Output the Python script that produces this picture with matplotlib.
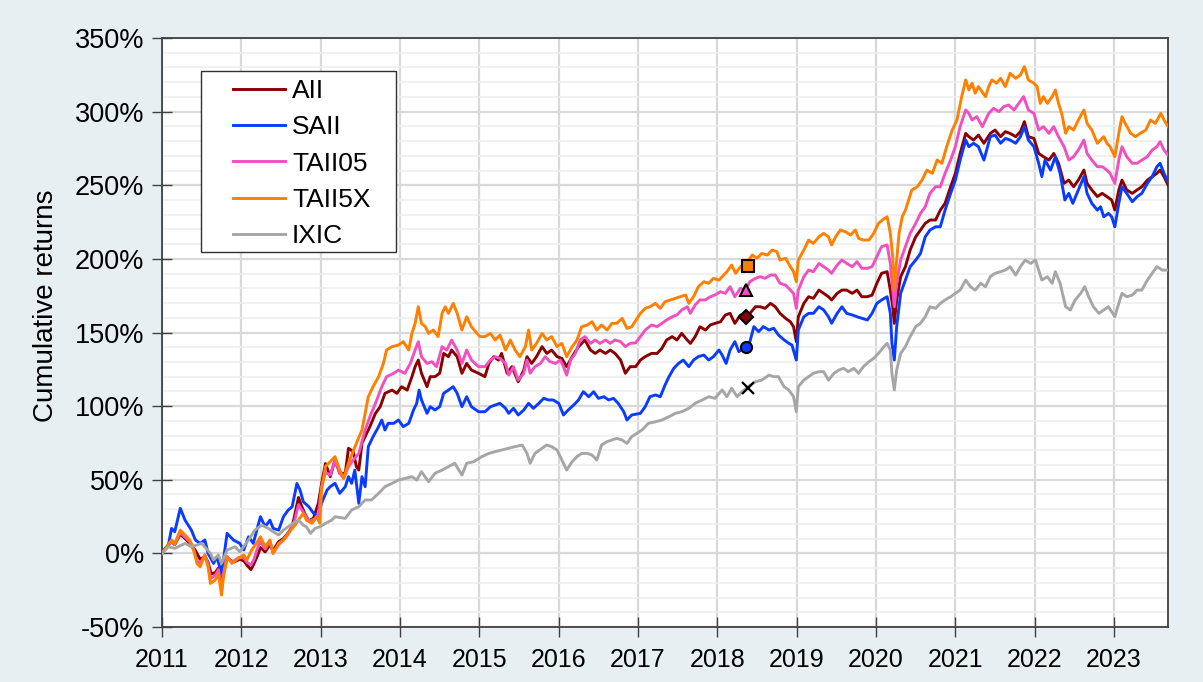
import matplotlib
matplotlib.use("Agg")
import matplotlib.pyplot as plt
from matplotlib.patches import Rectangle

plt.rcParams['font.family'] = ['Liberation Sans', 'DejaVu Sans']

# cumulative returns (%), time in decimal years
aii_t = [2011.00, 2011.08, 2011.12, 2011.16, 2011.23, 2011.29, 2011.37, 2011.42, 2011.48, 2011.54,
         2011.58, 2011.62, 2011.67, 2011.71, 2011.75, 2011.77, 2011.82, 2011.90, 2011.98, 2012.03,
         2012.07, 2012.12, 2012.15, 2012.20, 2012.24, 2012.30, 2012.36, 2012.40, 2012.47, 2012.53,
         2012.59, 2012.64, 2012.72, 2012.76, 2012.80, 2012.85, 2012.91, 2012.97, 2013.01, 2013.06,
         2013.12, 2013.18, 2013.24, 2013.31, 2013.35, 2013.41, 2013.45, 2013.48, 2013.52, 2013.56,
         2013.62, 2013.69, 2013.75, 2013.81, 2013.90, 2013.96, 2014.02, 2014.09, 2014.15, 2014.19,
         2014.23, 2014.27, 2014.34, 2014.38, 2014.44, 2014.50, 2014.55, 2014.61, 2014.65, 2014.72,
         2014.78, 2014.84, 2014.90, 2014.99, 2015.07, 2015.12, 2015.18, 2015.24, 2015.28, 2015.35,
         2015.41, 2015.49, 2015.56, 2015.60, 2015.66, 2015.72, 2015.79, 2015.85, 2015.91, 2015.98,
         2016.04, 2016.10, 2016.17, 2016.25, 2016.33, 2016.40, 2016.46, 2016.52, 2016.59, 2016.65,
         2016.71, 2016.78, 2016.84, 2016.90, 2016.97, 2017.03, 2017.09, 2017.17, 2017.24, 2017.30,
         2017.36, 2017.43, 2017.49, 2017.55, 2017.62, 2017.66, 2017.72, 2017.78, 2017.85, 2017.91,
         2017.97, 2018.04, 2018.10, 2018.16, 2018.22, 2018.29, 2018.35, 2018.41, 2018.48, 2018.54,
         2018.60, 2018.67, 2018.73, 2018.79, 2018.86, 2018.92, 2018.96, 2018.995, 2019.02, 2019.09,
         2019.15, 2019.21, 2019.28, 2019.34, 2019.40, 2019.44, 2019.51, 2019.57, 2019.63, 2019.70,
         2019.76, 2019.82, 2019.89, 2019.95, 2020.01, 2020.07, 2020.14, 2020.18, 2020.21, 2020.23,
         2020.26, 2020.31, 2020.37, 2020.43, 2020.50, 2020.56, 2020.62, 2020.68, 2020.75, 2020.81,
         2020.87, 2020.94, 2021.00, 2021.06, 2021.13, 2021.17, 2021.23, 2021.29, 2021.36, 2021.44,
         2021.50, 2021.57, 2021.63, 2021.69, 2021.76, 2021.82, 2021.87, 2021.92, 2021.99, 2022.05,
         2022.11, 2022.18, 2022.24, 2022.30, 2022.37, 2022.43, 2022.49, 2022.55, 2022.62, 2022.66,
         2022.72, 2022.79, 2022.85, 2022.91, 2022.97, 2023.01, 2023.06, 2023.10, 2023.16, 2023.23,
         2023.29, 2023.35, 2023.42, 2023.48, 2023.54, 2023.58, 2023.63, 2023.68]
aii_v = [0, 6, 8, 6, 13, 10, 6, 2, -4, -2,
         -6, -14, -13, -10, -20, -15, -3, -6, -4, -5,
         -8, -11, -8, -2, 4, 1, 6, 2, 8, 10,
         14, 18, 38, 32, 27, 22, 24, 34, 47, 61,
         52.1, 63.4, 54.4, 54.4, 71.4, 69.1, 58.9, 56.6, 74.8, 79.3,
         86.1, 95.1, 99.6, 108.7, 110.9, 108.7, 113.2, 110.9, 120.0, 126.8,
         131.3, 122.3, 113.2, 120.0, 120.0, 122.3, 135.8, 133.6, 138.1, 133.6,
         122.3, 129.0, 124.5, 122.3, 120.0, 129.0, 133.6, 131.3, 135.8, 122.3,
         126.8, 116.6, 124.5, 133.6, 129.0, 133.6, 140.4, 135.8, 138.1, 133.6,
         132.4, 126.8, 133.6, 140.4, 144.9, 138.1, 135.8, 138.1, 135.8, 138.1,
         135.8, 131.3, 122.3, 126.8, 126.8, 131.3, 133.6, 135.8, 135.8, 139.2,
         144.9, 147.2, 144.9, 149.4, 144.9, 142.6, 147.2, 153.9, 151.7, 155.1,
         156.2, 157.3, 161.9, 163.0, 156.2, 161.9, 160.7, 163.0, 167.5, 167.5,
         166.4, 169.8, 167.5, 163.0, 159.6, 157.3, 153.9, 143.8, 160.7, 169.8,
         174.3, 173.2, 178.8, 176.6, 174.3, 172.1, 176.6, 178.8, 178.8, 176.6,
         178.8, 174.3, 174.3, 175.4, 183.4, 190.2, 191.3, 178.8, 167.5, 156.2,
         172.1, 187.9, 194.7, 206.0, 215.0, 219.6, 224.1, 226.4, 226.4, 233.1,
         237.7, 249.0, 258.1, 271.6, 285.2, 283.0, 280.7, 284.1, 278.5, 285.2,
         287.5, 283.0, 286.4, 285.2, 283.0, 286.4, 293.2, 283.0, 281.8, 271.6,
         269.4, 267.1, 271.6, 264.9, 251.3, 253.5, 249.0, 253.5, 260.3, 251.3,
         246.8, 242.3, 244.5, 242.3, 240.0, 233.2, 246.8, 253.5, 246.8, 244.5,
         246.8, 249.0, 253.5, 255.8, 258.1, 260.3, 255.8, 250.2]

saii_t = [2011.00, 2011.08, 2011.12, 2011.16, 2011.23, 2011.29, 2011.37, 2011.42, 2011.48, 2011.54,
          2011.58, 2011.65, 2011.69, 2011.75, 2011.82, 2011.90, 2011.98, 2012.03, 2012.09, 2012.15,
          2012.24, 2012.30, 2012.36, 2012.40, 2012.47, 2012.53, 2012.59, 2012.64, 2012.70, 2012.74,
          2012.78, 2012.85, 2012.91, 2012.97, 2013.01, 2013.08, 2013.12, 2013.18, 2013.24, 2013.31,
          2013.35, 2013.39, 2013.43, 2013.48, 2013.52, 2013.56, 2013.60, 2013.66, 2013.73, 2013.77,
          2013.81, 2013.85, 2013.92, 2013.98, 2014.04, 2014.11, 2014.17, 2014.21, 2014.24, 2014.27,
          2014.34, 2014.38, 2014.44, 2014.50, 2014.55, 2014.61, 2014.67, 2014.72, 2014.78, 2014.84,
          2014.90, 2014.99, 2015.07, 2015.14, 2015.20, 2015.26, 2015.33, 2015.37, 2015.43, 2015.49,
          2015.56, 2015.62, 2015.68, 2015.75, 2015.81, 2015.87, 2015.93, 2016.00, 2016.06, 2016.12,
          2016.19, 2016.25, 2016.31, 2016.38, 2016.44, 2016.50, 2016.57, 2016.63, 2016.69, 2016.75,
          2016.82, 2016.86, 2016.92, 2017.03, 2017.09, 2017.15, 2017.22, 2017.28, 2017.34, 2017.39,
          2017.45, 2017.51, 2017.57, 2017.64, 2017.70, 2017.76, 2017.83, 2017.89, 2017.95, 2018.02,
          2018.06, 2018.11, 2018.16, 2018.22, 2018.27, 2018.33, 2018.41, 2018.46, 2018.52, 2018.58,
          2018.65, 2018.71, 2018.77, 2018.84, 2018.90, 2018.94, 2018.995, 2019.02, 2019.09, 2019.15,
          2019.21, 2019.28, 2019.34, 2019.40, 2019.44, 2019.51, 2019.57, 2019.63, 2019.70, 2019.76,
          2019.82, 2019.89, 2019.95, 2020.01, 2020.07, 2020.14, 2020.18, 2020.20, 2020.23, 2020.26,
          2020.31, 2020.37, 2020.43, 2020.50, 2020.56, 2020.62, 2020.68, 2020.75, 2020.81, 2020.87,
          2020.94, 2021.00, 2021.06, 2021.13, 2021.17, 2021.23, 2021.29, 2021.36, 2021.44, 2021.50,
          2021.57, 2021.63, 2021.69, 2021.76, 2021.82, 2021.87, 2021.92, 2021.99, 2022.05, 2022.09,
          2022.13, 2022.20, 2022.26, 2022.32, 2022.38, 2022.43, 2022.48, 2022.55, 2022.62, 2022.66,
          2022.72, 2022.79, 2022.83, 2022.87, 2022.93, 2022.97, 2023.01, 2023.06, 2023.10, 2023.16,
          2023.23, 2023.29, 2023.35, 2023.42, 2023.48, 2023.54, 2023.58, 2023.63, 2023.68]
saii_v = [1.1, 5.7, 17.0, 14.7, 30.6, 22.6, 15.8, 9.1, 6.8, 9.1,
          0, -6.8, -2.3, -13.6, 13.6, 9.1, 6.8, 2.3, 11.3, 6.8,
          24.9, 18.1, 22.6, 17.0, 15.8, 24.9, 29.4, 31.7, 47.5, 43.0,
          35.1, 31.7, 27.2, 24.9, 34.0, 43.0, 45.3, 47.6, 40.8, 45.3,
          52.1, 47.6, 56.6, 34.0, 52.1, 45.3, 72.5, 79.3, 86.1, 90.6,
          83.8, 88.3, 88.3, 90.6, 86.1, 88.3, 97.4, 101.9, 110.9, 104.2,
          95.1, 99.6, 97.4, 99.6, 108.7, 110.9, 113.2, 108.7, 99.6, 106.4,
          99.6, 96.2, 96.2, 99.6, 100.8, 101.9, 98.5, 95.1, 98.5, 94.0,
          97.4, 101.9, 98.5, 101.9, 105.3, 104.2, 104.2, 101.9, 94.0, 97.4,
          100.8, 104.2, 109.8, 106.4, 109.8, 105.3, 106.4, 104.2, 105.3, 101.9,
          96.2, 90.6, 94.0, 95.1, 99.6, 106.4, 107.6, 106.4, 114.3, 120.0,
          125.6, 129.0, 131.3, 126.8, 131.3, 133.6, 134.7, 131.3, 133.6, 138.1,
          134.7, 129.0, 138.1, 143.8, 137.0, 139.3, 143.8, 154.0, 150.6, 154.0,
          151.7, 152.9, 148.3, 145.0, 142.7, 141.5, 131.3, 151.7, 160.7, 163.0,
          163.0, 167.5, 165.3, 160.7, 156.3, 163.0, 167.5, 163.0, 161.9, 160.7,
          159.7, 158.5, 163.0, 169.8, 172.1, 174.3, 163.0, 142.6, 131.3, 153.9,
          176.6, 185.6, 194.7, 199.2, 203.7, 215.0, 219.6, 221.8, 221.8, 233.1,
          244.5, 253.5, 267.1, 280.7, 276.2, 278.5, 276.2, 267.1, 283.0, 284.1,
          278.5, 281.8, 280.7, 278.5, 283.0, 289.8, 280.7, 276.2, 264.9, 255.9,
          267.1, 260.3, 269.4, 258.1, 240.0, 244.5, 237.7, 246.7, 255.8, 244.5,
          237.7, 233.1, 235.4, 228.6, 230.9, 228.6, 221.8, 237.7, 249.0, 244.5,
          238.8, 242.2, 244.5, 251.3, 255.8, 262.6, 264.9, 258.1, 252.4]

taii05_t = [2011.00, 2011.12, 2011.16, 2011.23, 2011.29, 2011.35, 2011.40, 2011.44, 2011.48, 2011.54,
            2011.58, 2011.61, 2011.67, 2011.71, 2011.75, 2011.77, 2011.82, 2011.88, 2011.96, 2012.03,
            2012.07, 2012.12, 2012.16, 2012.20, 2012.24, 2012.30, 2012.36, 2012.40, 2012.47, 2012.53,
            2012.59, 2012.66, 2012.72, 2012.78, 2012.85, 2012.91, 2012.97, 2013.01, 2013.06, 2013.12,
            2013.18, 2013.24, 2013.29, 2013.35, 2013.41, 2013.48, 2013.56, 2013.62, 2013.69, 2013.77,
            2013.83, 2013.92, 2013.98, 2014.06, 2014.13, 2014.19, 2014.23, 2014.27, 2014.34, 2014.40,
            2014.46, 2014.53, 2014.59, 2014.65, 2014.72, 2014.78, 2014.84, 2014.90, 2014.99, 2015.07,
            2015.14, 2015.20, 2015.26, 2015.33, 2015.37, 2015.43, 2015.49, 2015.56, 2015.60, 2015.64,
            2015.70, 2015.77, 2015.83, 2015.89, 2015.96, 2016.02, 2016.06, 2016.10, 2016.15, 2016.21,
            2016.27, 2016.33, 2016.40, 2016.46, 2016.52, 2016.59, 2016.65, 2016.71, 2016.78, 2016.84,
            2016.90, 2016.97, 2017.03, 2017.09, 2017.17, 2017.24, 2017.30, 2017.36, 2017.43, 2017.49,
            2017.55, 2017.62, 2017.66, 2017.72, 2017.78, 2017.85, 2017.91, 2017.97, 2018.04, 2018.10,
            2018.16, 2018.22, 2018.29, 2018.35, 2018.41, 2018.48, 2018.54, 2018.60, 2018.67, 2018.73,
            2018.79, 2018.86, 2018.92, 2018.96, 2018.995, 2019.02, 2019.09, 2019.15, 2019.21, 2019.28,
            2019.34, 2019.40, 2019.44, 2019.51, 2019.57, 2019.63, 2019.70, 2019.76, 2019.82, 2019.89,
            2019.95, 2020.01, 2020.07, 2020.14, 2020.18, 2020.21, 2020.23, 2020.26, 2020.31, 2020.37,
            2020.43, 2020.50, 2020.56, 2020.62, 2020.68, 2020.75, 2020.81, 2020.87, 2020.94, 2021.00,
            2021.06, 2021.13, 2021.17, 2021.21, 2021.27, 2021.34, 2021.42, 2021.48, 2021.55, 2021.61,
            2021.67, 2021.74, 2021.80, 2021.86, 2021.92, 2021.99, 2022.05, 2022.11, 2022.18, 2022.24,
            2022.30, 2022.37, 2022.43, 2022.49, 2022.55, 2022.62, 2022.66, 2022.72, 2022.79, 2022.85,
            2022.91, 2022.95, 2023.01, 2023.06, 2023.10, 2023.16, 2023.23, 2023.29, 2023.35, 2023.42,
            2023.48, 2023.54, 2023.58, 2023.63, 2023.68]
taii05_v = [0, 8, 6, 14, 11, 8, 2, -5, -7, -1,
            -7, -17, -15, -11, -24, -15, -2, -6, -3, -3,
            -6, -8, -4, 3, 8, 3, 8, 0, 6, 9,
            13, 20, 33, 28, 22, 23, 26, 45, 55, 53.2,
            63.4, 54.4, 50.9, 58.9, 63.4, 67.9, 83.8, 92.8, 101.9, 113.2,
            120.0, 122.3, 124.5, 122.3, 129.0, 138.1, 143.8, 133.6, 129.0, 130.2,
            126.8, 140.4, 138.1, 144.9, 138.1, 129.0, 138.1, 131.3, 126.8, 126.8,
            131.3, 133.6, 132.4, 129.0, 121.1, 126.8, 117.7, 122.3, 131.3, 122.3,
            126.8, 129.0, 133.6, 130.2, 129.0, 131.3, 126.8, 121.1, 131.3, 135.8,
            144.9, 147.2, 142.6, 144.9, 142.6, 144.9, 142.6, 144.9, 143.8, 140.4,
            142.6, 143.0, 147.2, 151.7, 155.1, 154.0, 156.2, 158.5, 160.7, 161.9,
            165.3, 167.5, 163.0, 168.7, 172.1, 172.1, 174.3, 175.5, 177.7, 176.6,
            181.1, 174.3, 180.0, 178.8, 184.5, 186.8, 187.9, 186.8, 189.0, 189.0,
            183.4, 182.2, 178.8, 176.6, 166.4, 178.8, 187.9, 192.4, 191.3, 196.9,
            194.7, 192.4, 190.2, 195.8, 199.2, 196.9, 194.7, 198.1, 193.6, 193.6,
            194.7, 201.5, 208.3, 209.4, 196.9, 178.8, 167.5, 183.4, 199.2, 208.3,
            217.3, 224.1, 230.9, 235.4, 244.5, 249.0, 249.0, 258.1, 267.1, 276.2,
            289.8, 301.1, 298.8, 294.3, 296.6, 289.8, 298.8, 302.2, 300.0, 303.4,
            304.5, 301.1, 305.6, 310.2, 301.1, 298.8, 287.5, 289.8, 285.3, 289.8,
            283.0, 276.2, 267.1, 269.4, 273.9, 280.7, 271.6, 267.1, 262.6, 262.6,
            260.3, 258.1, 251.3, 267.1, 276.2, 269.4, 264.9, 264.9, 267.1, 269.4,
            273.9, 276.2, 279.6, 273.9, 270.5]

taii5x_t = [2011.00, 2011.12, 2011.16, 2011.23, 2011.29, 2011.35, 2011.40, 2011.44, 2011.48, 2011.54,
            2011.58, 2011.61, 2011.67, 2011.71, 2011.75, 2011.77, 2011.82, 2011.88, 2011.96, 2012.03,
            2012.07, 2012.13, 2012.19, 2012.24, 2012.30, 2012.36, 2012.40, 2012.47, 2012.53, 2012.59,
            2012.66, 2012.72, 2012.78, 2012.82, 2012.89, 2012.95, 2012.99, 2013.01, 2013.06, 2013.18,
            2013.24, 2013.29, 2013.35, 2013.39, 2013.45, 2013.52, 2013.56, 2013.60, 2013.66, 2013.73,
            2013.79, 2013.83, 2013.90, 2013.98, 2014.04, 2014.11, 2014.15, 2014.19, 2014.23, 2014.27,
            2014.32, 2014.36, 2014.42, 2014.48, 2014.53, 2014.57, 2014.61, 2014.67, 2014.72, 2014.78,
            2014.84, 2014.90, 2014.97, 2015.01, 2015.07, 2015.14, 2015.20, 2015.26, 2015.33, 2015.39,
            2015.45, 2015.51, 2015.58, 2015.62, 2015.66, 2015.72, 2015.79, 2015.85, 2015.91, 2015.98,
            2016.04, 2016.10, 2016.17, 2016.23, 2016.29, 2016.36, 2016.42, 2016.48, 2016.54, 2016.61,
            2016.67, 2016.73, 2016.80, 2016.86, 2016.92, 2017.03, 2017.09, 2017.15, 2017.22, 2017.28,
            2017.34, 2017.41, 2017.47, 2017.53, 2017.60, 2017.64, 2017.70, 2017.76, 2017.83, 2017.89,
            2017.95, 2018.02, 2018.06, 2018.12, 2018.18, 2018.23, 2018.29, 2018.35, 2018.44, 2018.50,
            2018.56, 2018.63, 2018.69, 2018.75, 2018.79, 2018.86, 2018.92, 2018.96, 2018.995, 2019.02,
            2019.09, 2019.15, 2019.21, 2019.28, 2019.34, 2019.40, 2019.44, 2019.49, 2019.55, 2019.61,
            2019.68, 2019.74, 2019.78, 2019.84, 2019.91, 2019.97, 2020.03, 2020.08, 2020.14, 2020.18,
            2020.21, 2020.23, 2020.26, 2020.29, 2020.33, 2020.37, 2020.41, 2020.45, 2020.52, 2020.58,
            2020.64, 2020.71, 2020.77, 2020.83, 2020.89, 2020.96, 2021.02, 2021.08, 2021.13, 2021.17,
            2021.21, 2021.25, 2021.29, 2021.38, 2021.42, 2021.46, 2021.52, 2021.57, 2021.63, 2021.69,
            2021.76, 2021.82, 2021.87, 2021.92, 2021.99, 2022.03, 2022.07, 2022.11, 2022.16, 2022.22,
            2022.26, 2022.30, 2022.34, 2022.39, 2022.43, 2022.49, 2022.55, 2022.62, 2022.66, 2022.72,
            2022.79, 2022.83, 2022.87, 2022.91, 2022.95, 2023.01, 2023.06, 2023.10, 2023.14, 2023.21,
            2023.27, 2023.33, 2023.40, 2023.46, 2023.52, 2023.59, 2023.63, 2023.68]
taii5x_v = [0, 9.1, 6.8, 15.8, 12.5, 9.1, 2.3, -6.8, -9.1, -1.1,
            -9.1, -20.4, -18.1, -13.6, -28.3, -18.1, -2.3, -6.8, -3.4, -1.1,
            -4.5, 2.3, 6.8, 11.3, 4.5, 9.1, 0, 6.8, 9.1, 13.6,
            18.1, 22.6, 27.2, 22.6, 20.4, 24.9, 20.4, 43.0, 58.9, 65.7,
            56.6, 50.9, 61.2, 66.8, 74.8, 83.8, 95.1, 106.4, 113.2, 120.0,
            129.0, 138.1, 140.4, 141.5, 143.8, 138.1, 149.4, 156.2, 167.5, 156.2,
            153.9, 149.4, 151.7, 147.2, 163.0, 167.5, 163.0, 169.8, 163.0, 151.7,
            160.7, 153.9, 149.4, 147.2, 147.2, 149.4, 144.9, 148.3, 138.1, 144.9,
            138.1, 133.6, 140.4, 151.7, 138.1, 142.6, 149.4, 144.9, 147.2, 140.4,
            142.6, 133.6, 140.4, 144.9, 153.9, 155.1, 157.3, 151.7, 155.1, 151.7,
            156.2, 156.2, 159.6, 152.8, 153.9, 163.0, 166.4, 167.5, 169.8, 166.4,
            170.9, 172.1, 173.2, 174.3, 175.5, 169.8, 174.3, 181.1, 184.5, 183.4,
            186.8, 185.6, 187.9, 191.3, 195.8, 190.2, 194.7, 195.8, 202.6, 200.4,
            203.7, 202.6, 206.0, 204.9, 199.2, 200.4, 194.7, 191.3, 184.5, 199.2,
            206.0, 212.8, 210.5, 215.0, 217.3, 215.0, 209.4, 215.0, 219.6, 218.5,
            216.2, 219.6, 213.9, 212.8, 212.8, 217.3, 224.1, 226.4, 228.6, 217.3,
            201.5, 178.8, 199.2, 217.3, 228.6, 233.1, 239.9, 246.7, 249.0, 253.5,
            260.3, 258.1, 267.1, 264.9, 276.2, 287.5, 294.3, 310.2, 321.5, 314.7,
            319.3, 312.5, 317.0, 310.2, 317.0, 321.5, 319.3, 322.6, 317.0, 326.0,
            322.6, 324.9, 330.5, 321.5, 319.3, 317.0, 305.6, 310.2, 305.6, 310.2,
            314.7, 305.6, 298.8, 285.3, 289.8, 287.5, 294.3, 301.1, 292.0, 287.5,
            278.5, 280.7, 283.0, 278.5, 276.2, 269.4, 285.3, 296.6, 292.0, 285.3,
            283.0, 285.3, 287.5, 294.3, 292.0, 298.8, 294.3, 289.8]

ixic_t = [2011.00, 2011.08, 2011.16, 2011.29, 2011.37, 2011.50, 2011.61, 2011.65, 2011.71, 2011.75,
          2011.82, 2011.92, 2011.98, 2012.09, 2012.17, 2012.26, 2012.34, 2012.40, 2012.47, 2012.53,
          2012.59, 2012.68, 2012.72, 2012.78, 2012.82, 2012.87, 2012.93, 2012.99, 2013.06, 2013.14,
          2013.18, 2013.31, 2013.39, 2013.48, 2013.56, 2013.64, 2013.73, 2013.81, 2013.90, 2013.98,
          2014.06, 2014.15, 2014.21, 2014.27, 2014.36, 2014.44, 2014.53, 2014.61, 2014.69, 2014.78,
          2014.84, 2014.93, 2015.03, 2015.12, 2015.20, 2015.28, 2015.37, 2015.45, 2015.54, 2015.60,
          2015.64, 2015.70, 2015.79, 2015.85, 2015.91, 2015.98, 2016.04, 2016.10, 2016.17, 2016.23,
          2016.29, 2016.36, 2016.42, 2016.48, 2016.54, 2016.61, 2016.67, 2016.73, 2016.80, 2016.86,
          2016.92, 2017.05, 2017.13, 2017.22, 2017.30, 2017.39, 2017.47, 2017.55, 2017.64, 2017.72,
          2017.81, 2017.89, 2017.97, 2018.06, 2018.12, 2018.18, 2018.25, 2018.31, 2018.39, 2018.48,
          2018.56, 2018.65, 2018.71, 2018.77, 2018.84, 2018.90, 2018.96, 2018.995, 2019.02, 2019.09,
          2019.15, 2019.21, 2019.28, 2019.34, 2019.40, 2019.47, 2019.53, 2019.59, 2019.65, 2019.72,
          2019.78, 2019.84, 2019.91, 2019.97, 2020.03, 2020.10, 2020.14, 2020.18, 2020.20, 2020.23,
          2020.26, 2020.31, 2020.37, 2020.43, 2020.50, 2020.56, 2020.62, 2020.68, 2020.75, 2020.81,
          2020.87, 2020.94, 2021.00, 2021.06, 2021.13, 2021.19, 2021.25, 2021.32, 2021.38, 2021.44,
          2021.50, 2021.57, 2021.63, 2021.69, 2021.76, 2021.82, 2021.88, 2021.95, 2022.01, 2022.05,
          2022.09, 2022.16, 2022.22, 2022.26, 2022.32, 2022.39, 2022.45, 2022.51, 2022.58, 2022.63,
          2022.68, 2022.74, 2022.81, 2022.87, 2022.93, 2023.01, 2023.06, 2023.10, 2023.16, 2023.23,
          2023.29, 2023.35, 2023.42, 2023.48, 2023.54, 2023.61, 2023.68]
ixic_v = [0, 4.5, 3.4, 6.8, 4.5, 6.8, 0, -4.5, -1.1, -6.8,
          2.3, 4.5, 1.1, 9.1, 15.8, 19.2, 17.0, 14.7, 12.5, 15.8,
          18.1, 21.5, 22.6, 19.2, 18.1, 13.6, 17.0, 18.1, 20.4, 22.6,
          24.9, 23.8, 29.5, 31.7, 36.3, 36.3, 40.8, 45.3, 47.6, 49.8,
          50.9, 52.1, 49.8, 55.5, 48.7, 54.4, 56.6, 58.9, 61.2, 53.2,
          61.2, 62.3, 65.7, 67.9, 69.1, 70.2, 71.4, 72.5, 73.6, 67.9,
          61.2, 67.9, 71.4, 73.6, 72.5, 70.2, 63.4, 56.6, 62.3, 65.7,
          67.9, 67.9, 66.8, 63.4, 73.6, 75.9, 77.0, 78.1, 77.0, 74.7,
          79.3, 83.8, 88.3, 89.4, 90.6, 92.8, 95.1, 96.2, 98.5, 101.9,
          104.2, 106.4, 105.3, 111.0, 106.4, 112.1, 106.4, 109.8, 113.2, 116.6,
          117.7, 121.1, 120.0, 120.0, 113.2, 111.0, 106.4, 96.2, 113.2, 117.7,
          120.0, 122.3, 123.4, 123.4, 117.7, 122.3, 124.5, 125.7, 123.4, 125.7,
          122.3, 126.8, 130.2, 132.4, 135.8, 140.4, 142.6, 138.1, 122.3, 111.0,
          124.5, 135.8, 140.4, 147.2, 154.0, 156.2, 160.7, 167.5, 166.4, 169.8,
          172.1, 174.3, 176.6, 178.8, 185.6, 181.1, 178.8, 183.4, 181.1, 187.9,
          190.2, 191.3, 192.4, 194.7, 189.0, 194.7, 199.2, 196.9, 199.2, 192.4,
          185.6, 187.9, 183.4, 191.3, 183.4, 167.5, 165.3, 172.1, 176.6, 181.1,
          174.3, 167.5, 163.0, 165.3, 167.5, 160.7, 169.8, 176.6, 174.3, 175.4,
          178.8, 178.8, 185.6, 190.2, 194.7, 192.4, 192.4]

series_names = ['AII', 'SAII', 'TAII05', 'TAII5X', 'IXIC']
series_colors = ['#8B0000', '#0A3CFF', '#F050C0', '#FF7F00', '#A6A6A6']

# highlighted points (around mid 2018)
mark_t = [2018.36, 2018.36, 2018.36, 2018.38, 2018.39]
mark_v = [160.5, 140.0, 179.0, 195.5, 112.5]
mark_shapes = ['D', 'o', '^', 's', 'x']

year_ticks = list(range(2011, 2024))
pct_ticks = list(range(-50, 351, 50))

fig = plt.figure(figsize=(12.03, 6.82), dpi=100, facecolor='#E8EFF2')
ax = fig.add_axes([0.1347, 0.0806, 0.8362, 0.8637])
ax.set_facecolor('white')

all_t = [aii_t, saii_t, taii05_t, taii5x_t, ixic_t]
all_v = [aii_v, saii_v, taii05_v, taii5x_v, ixic_v]
for t, v, name, col in zip(all_t, all_v, series_names, series_colors):
    ax.plot(t, v, color=col, lw=2.1, label=name, zorder=3)

for t, v, m, col in zip(mark_t, mark_v, mark_shapes, series_colors):
    if m == 'x':
        ax.plot(t, v, marker='x', color='black', ms=8, mew=1.6, zorder=5)
    else:
        ax.plot(t, v, marker=m, mfc=col, mec='black', ms=8 if m != 'D' else 7, mew=1.5, zorder=5)

ax.set_xlim(2011, 2023.68)
ax.set_ylim(-50, 350)
ax.set_xticks(year_ticks)
ax.set_xticklabels([str(y) for y in year_ticks])
ax.set_yticks(pct_ticks)
ax.set_yticklabels([f'{p}%' for p in pct_ticks])
ax.set_yticks(range(-50, 351, 10), minor=True)
ax.tick_params(axis='both', which='major', direction='inout', length=14, width=1,
               color='#404040')
ax.tick_params(axis='x', pad=8, labelsize=18)
ax.tick_params(axis='y', pad=6, labelsize=19.5)
ax.tick_params(axis='y', which='minor', length=0)

ax.grid(True, which='major', color='#D9D9D9', lw=1.6, zorder=0)
ax.grid(True, which='minor', axis='y', color='#EFEFEF', lw=1.2, zorder=0)
ax.set_axisbelow(True)
for s in ax.spines.values():
    s.set_color('#404040')
    s.set_linewidth(1.3)

ax.set_ylabel('Cumulative returns', fontsize=20, labelpad=8)
ax.yaxis.set_label_coords(-0.102, 0.545)

# legend frame drawn separately so the inner padding can differ per side
ax.add_patch(Rectangle((0.0388, 0.636), 0.1938, 0.308, transform=ax.transAxes,
                       facecolor='white', edgecolor='#303030', lw=1.0, zorder=6))
ax.legend(loc='upper left', bbox_to_anchor=(0.057, 0.953), frameon=False, fontsize=19,
          borderpad=0, handlelength=2.0, handletextpad=0.25, labelspacing=0.47).set_zorder(7)

fig.savefig('out.png', dpi=100, facecolor=fig.get_facecolor())
